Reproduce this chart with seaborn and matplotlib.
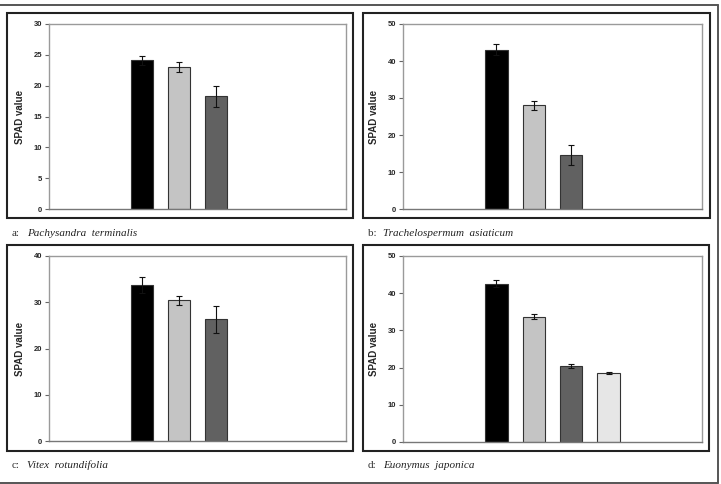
import pandas as pd
import matplotlib
matplotlib.use('Agg')
import matplotlib.pyplot as plt
import seaborn as sns
from matplotlib.patches import Rectangle
from matplotlib.lines import Line2D

sns.set_style('white')
plt.rcParams['font.family'] = ['Liberation Sans', 'DejaVu Sans']

# slots on the x axis (only the middle ones hold bars)
slots = ['p1', 'p2', 'T1', 'T2', 'T3', 'T4', 'p3', 'p4']
treatments = ['T1', 'T2', 'T3', 'T4']
bar_colors = ['#000000', '#c4c4c4', '#616161', '#e6e6e6']

# panel data: SPAD means and error
species = ['Pachysandra  terminalis', 'Trachelospermum  asiaticum',
           'Vitex  rotundifolia', 'Euonymus  japonica']
letters = ['a', 'b', 'c', 'd']
means_a = [24.1, 23.0, 18.3]
err_a = [0.7, 0.8, 1.7]
means_b = [43.1, 28.0, 14.6]
err_b = [1.5, 1.3, 2.7]
means_c = [33.7, 30.4, 26.3]
err_c = [1.8, 1.05, 2.9]
means_d = [42.6, 33.7, 20.4, 18.5]
err_d = [0.9, 0.6, 0.45, 0.35]
ymax = [30, 50, 40, 50]
ystep = [5, 10, 10, 10]

W, H = 721, 484
fig = plt.figure(figsize=(W / 100, H / 100), dpi=100)


def fx(px):
    return px / W


def fy(py):
    return 1 - py / H


# outer gray border (top, right, bottom)
for xs, ys in [([0, 718], [5, 5]), ([718, 718], [5, 483]), ([0, 718], [483, 483])]:
    fig.add_artist(Line2D([fx(x) for x in xs], [fy(y) for y in ys],
                          color='#555555', lw=1.4))

frames = [(7, 13, 353, 218), (363, 13, 710, 218),
          (7, 245, 353, 451), (363, 245, 709, 451)]
axes_px = [(49, 24, 346, 209), (403, 24, 702, 209),
           (49, 256, 346, 441), (403, 256, 702, 442)]
captions = [(12, 233), (368, 233), (12, 465), (368, 465)]

all_means = [means_a, means_b, means_c, means_d]
all_err = [err_a, err_b, err_c, err_d]

for i in range(4):
    x0, y0, x1, y1 = frames[i]
    fig.add_artist(Rectangle((fx(x0), fy(y1)), fx(x1 - x0), (y1 - y0) / H,
                             fill=False, ec='#222222', lw=1.5,
                             transform=fig.transFigure))
    a0, b0, a1, b1 = axes_px[i]
    ax = fig.add_axes([fx(a0), fy(b1), fx(a1 - a0), (b1 - b0) / H])

    n = len(all_means[i])
    df = pd.DataFrame({'trt': treatments[:n], 'spad': all_means[i]})
    sns.barplot(data=df, x='trt', y='spad', hue='trt', order=slots,
                hue_order=treatments[:n], palette=bar_colors[:n],
                width=0.6, edgecolor='#333333', linewidth=0.8,
                legend=False, ax=ax, errorbar=None)
    xpos = [slots.index(t) for t in treatments[:n]]
    ax.errorbar(xpos, all_means[i], yerr=all_err[i], fmt='none',
                ecolor='#111111', elinewidth=0.8, capsize=2.5, capthick=0.8)

    ax.set_xlim(-0.5, len(slots) - 0.5)
    ax.set_ylim(0, ymax[i])
    ax.set_yticks(range(0, ymax[i] + 1, ystep[i]))
    ax.set_xticks([])
    ax.set_xlabel('')
    ax.set_ylabel('SPAD value', fontsize=7, fontweight='bold', labelpad=6)
    ax.tick_params(axis='y', direction='out', length=3, width=0.8,
                   color='#666666', pad=2, labelsize=5.5, left=True)
    for lab in ax.get_yticklabels():
        lab.set_fontweight('bold')
    for s in ['top', 'right', 'left']:
        ax.spines[s].set_color('#9a9a9a')
        ax.spines[s].set_linewidth(1.0)
    ax.spines['bottom'].set_color('#777777')
    ax.spines['bottom'].set_linewidth(1.0)

    cx, cy = captions[i]
    fig.text(fx(cx), fy(cy), letters[i] + ':', fontsize=8,
             family=['Liberation Serif'],
             va='center', ha='left', color='#333333')
    fig.text(fx(cx + 15), fy(cy), species[i], fontsize=8, style='italic',
             family=['Liberation Serif'], va='center', ha='left',
             color='#222222')

fig.savefig('out.png', dpi=100)
